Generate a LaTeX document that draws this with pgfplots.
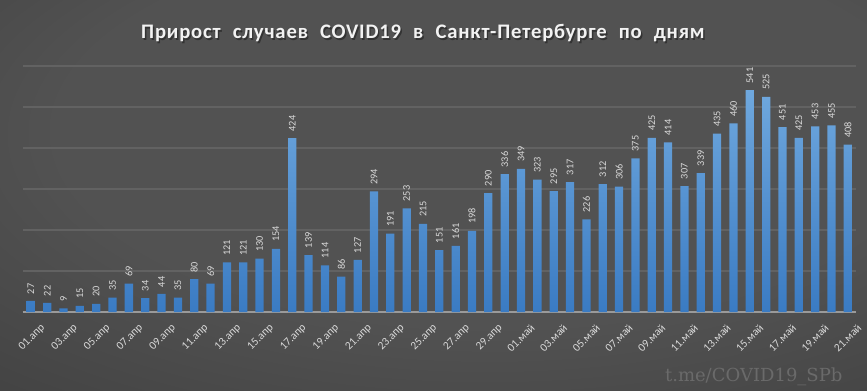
\documentclass[border=0pt]{standalone}
\usepackage{pgfplots}
\pgfplotsset{compat=1.18}
\usepackage{fontspec}
\setmainfont{Carlito}
\newfontfamily\titlefont[WordSpace=2.2, LetterSpace=4]{Carlito}
\newfontfamily\wmfont{DejaVu Serif}

\definecolor{bgin}{HTML}{525252}
\definecolor{bgmid}{HTML}{3C3C3C}
\definecolor{bgout}{HTML}{202020}
\definecolor{bartop}{HTML}{6FA8DE}
\definecolor{barbot}{HTML}{3A7BC3}
\definecolor{lbl}{HTML}{D9D9D9}
\definecolor{gridc}{HTML}{626262}
\definecolor{axc}{HTML}{9A9A9A}
\definecolor{wmc}{HTML}{6A6A6A}

\pgfdeclareradialshading{bgshade}{\pgfpoint{5bp}{12bp}}{color(0bp)=(bgin); color(25bp)=(bgin); color(50bp)=(bgmid); color(65bp)=(bgout); color(80bp)=(bgout)}

\pgfplotstableread{
x y
0 27
1 22
2 9
3 15
4 20
5 35
6 69
7 34
8 44
9 35
10 80
11 69
12 121
13 121
14 130
15 154
16 424
17 139
18 114
19 86
20 127
21 294
22 191
23 253
24 215
25 151
26 161
27 198
28 290
29 336
30 349
31 323
32 295
33 317
34 226
35 312
36 306
37 375
38 425
39 414
40 307
41 339
42 435
43 460
44 541
45 525
46 451
47 425
48 453
49 455
50 408
}\datatable

\begin{document}
\begin{tikzpicture}
\fill[shading=bgshade] (0,0) rectangle (650.25pt,292.5pt);
\begin{axis}[
  at={(17pt,58.5pt)}, anchor=south west,
  scale only axis, width=625pt, height=184.5pt,
  xmin=-0.5, xmax=50.5, ymin=0, ymax=600,
  ybar, bar width=6.2pt,
  /pgf/number format/assume math mode=true,
  axis x line*=bottom, axis y line*=left,
  x axis line style={draw=axc, line width=0.8pt},
  y axis line style={draw=none},
  ytick={100,200,...,600}, yticklabels={},
  ytick style={draw=none},
  ymajorgrids, grid style={draw=gridc, line width=0.8pt},
  xtick={0,2,...,50},
  xticklabels={01.апр,03.апр,05.апр,07.апр,09.апр,11.апр,13.апр,15.апр,17.апр,19.апр,21.апр,23.апр,25.апр,27.апр,29.апр,01.май,03.май,05.май,07.май,09.май,11.май,13.май,15.май,17.май,19.май,21.май},
  major x tick style={draw=none},
  xticklabel style={rotate=45, anchor=north east, font=\fontsize{8.5}{9}\selectfont, text=lbl, inner sep=0pt, yshift=-7.5pt, xshift=2pt},
  extra x ticks={-0.5,1.5,...,49.5},
  extra x tick style={xticklabel={}, major tick length=4pt, tick align=outside, major tick style={draw=axc, line width=0.8pt}},
  nodes near coords,
  every node near coord/.append style={rotate=90, anchor=west, font=\fontsize{7.7}{8}\selectfont, text=lbl, inner xsep=5pt, inner ysep=0pt},
  clip=false,
]
\addplot[draw=none, top color=bartop, bottom color=barbot] table[x=x, y=y] {\datatable};
\end{axis}
\node[text=black!80, anchor=center] at (318.3pt,266.3pt) {\titlefont\fontsize{15.5}{17}\selectfont\bfseries Прирост случаев COVID19 в Санкт-Петербурге по дням};
\node[text=white!95!black, anchor=center] at (317.2pt,267.5pt) {\titlefont\fontsize{15.5}{17}\selectfont\bfseries Прирост случаев COVID19 в Санкт-Петербурге по дням};
\node[text=wmc, anchor=base east, inner sep=0pt] at (632pt,6.75pt) {\wmfont\fontsize{13.5}{15}\selectfont t.me/COVID19\_SPb};
\pgfresetboundingbox
\path (0,0) rectangle (650.25pt,292.5pt);
\end{tikzpicture}
\end{document}
